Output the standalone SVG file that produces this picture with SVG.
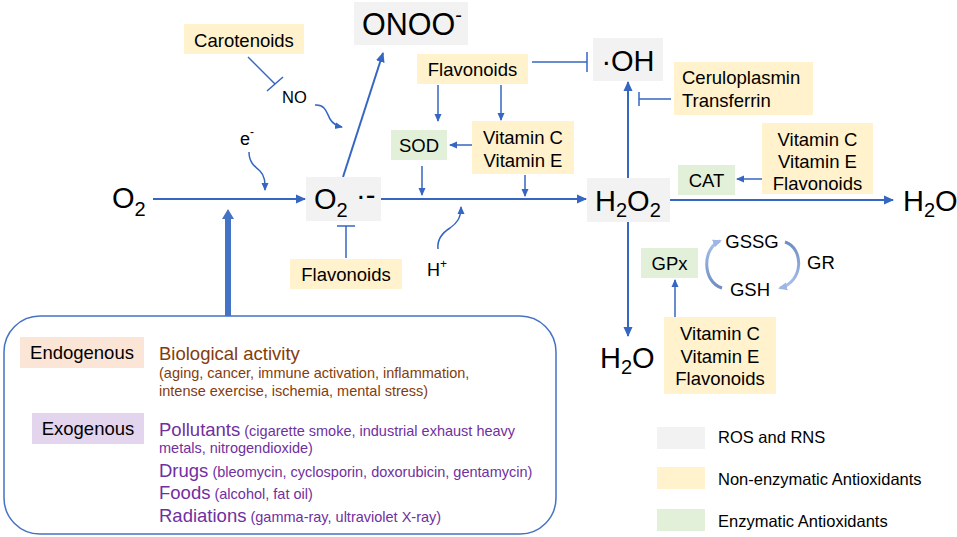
<svg xmlns="http://www.w3.org/2000/svg" width="957" height="537" viewBox="0 0 957 537">
<style>
text{font-family:"Liberation Sans",Arial,sans-serif;fill:#000}
.big{font-size:29px}
.sub{font-size:20px}
.lab{font-size:18.5px}
.sm{font-size:16.5px}
.ros{fill:#f2f2f2}
.non{fill:#fff2cc}
.enz{fill:#e2f0d9}
.ln{stroke:#3466c2;stroke-width:2;fill:none}
.ls{stroke:#3466c2;stroke-width:1.5;fill:none}
.brown{fill:#843c0c}
.purple{fill:#7030a0}
</style>
<defs>
<marker id="ah" markerUnits="userSpaceOnUse" markerWidth="10" markerHeight="10" viewBox="0 0 10 10" refX="9" refY="5" orient="auto"><path d="M0,0.5 L10,5 L0,9.5 z" fill="#3466c2"/></marker>
<marker id="as" markerUnits="userSpaceOnUse" markerWidth="8" markerHeight="8" viewBox="0 0 8 8" refX="7" refY="4" orient="auto"><path d="M0,0.5 L8,4 L0,7.5 z" fill="#3466c2"/></marker>
<marker id="ag" markerUnits="userSpaceOnUse" markerWidth="9" markerHeight="9" viewBox="0 0 9 9" refX="7" refY="4.5" orient="auto"><path d="M0,0.5 L9,4.5 L0,8.5 z" fill="#9db6e3"/></marker>
<linearGradient id="gl" gradientUnits="userSpaceOnUse" x1="0" y1="288" x2="0" y2="240"><stop offset="0" stop-color="#6f8cc4"/><stop offset="1" stop-color="#a9c2ec"/></linearGradient>
<linearGradient id="gr" gradientUnits="userSpaceOnUse" x1="0" y1="242" x2="0" y2="288"><stop offset="0" stop-color="#6f8cc4"/><stop offset="1" stop-color="#a9c2ec"/></linearGradient>
</defs>

<g id="connectors">
<line class="ln" x1="153" y1="199" x2="305" y2="199" marker-end="url(#ah)"/>
<line class="ln" x1="381" y1="199" x2="586" y2="199" marker-end="url(#ah)"/>
<line class="ln" x1="670" y1="200" x2="893" y2="200" marker-end="url(#ah)"/>
<line class="ln" x1="343" y1="177" x2="383" y2="53" marker-end="url(#ah)"/>
<line class="ln" x1="628" y1="178" x2="628" y2="82" marker-end="url(#ah)"/>
<line class="ln" x1="628" y1="222" x2="628" y2="336" marker-end="url(#ah)"/>
<polygon points="225,316 231,316 231,219 234,219 228,209 222,219 225,219" fill="#4472c4"/>
<line class="ls" x1="248" y1="57" x2="275" y2="84"/>
<line class="ls" x1="267" y1="91" x2="283" y2="77"/>
<line class="ls" x1="346" y1="258" x2="346" y2="226"/>
<line class="ls" x1="337" y1="226" x2="355" y2="226"/>
<line class="ls" x1="532" y1="62" x2="587" y2="62"/>
<line class="ls" x1="587" y1="52" x2="587" y2="72"/>
<line class="ls" x1="671" y1="99" x2="639" y2="99"/>
<line class="ls" x1="639" y1="92" x2="639" y2="106"/>
<line class="ls" x1="438" y1="85" x2="438" y2="121" marker-end="url(#as)"/>
<line class="ls" x1="501" y1="85" x2="501" y2="120" marker-end="url(#as)"/>
<line class="ls" x1="472" y1="145" x2="450" y2="145" marker-end="url(#as)"/>
<line class="ls" x1="422" y1="166" x2="422" y2="195" marker-end="url(#as)"/>
<line class="ls" x1="525" y1="175" x2="525" y2="196" marker-end="url(#as)"/>
<line class="ls" x1="762" y1="179" x2="737" y2="179" marker-end="url(#as)"/>
<line class="ls" x1="675" y1="317" x2="675" y2="280" marker-end="url(#as)"/>
<path class="ls" d="M315,105 C326,104 327,114 330,119 C333,124 337,126 342,127" marker-end="url(#as)"/>
<path class="ls" d="M249,152 C249,162 254,166 260,171 C265,176 265,182 265,190" marker-end="url(#as)"/>
<path class="ls" d="M438,249 C437,240 442,233 450,228 C457,223 461,218 461,207" marker-end="url(#as)"/>
<path d="M722,288 C702,282 702,248 720,241" fill="none" stroke="url(#gl)" stroke-width="3" marker-end="url(#ag)"/>
<path d="M785,242 C804,248 804,282 780,288" fill="none" stroke="url(#gr)" stroke-width="3" marker-end="url(#ag)"/>
</g>

<g id="O2"><text class="big" x="112" y="208">O<tspan class="sub" dy="8">2</tspan></text></g>
<g id="superoxide"><rect class="ros" x="306" y="177" width="75" height="44"/><text class="big" x="314" y="209">O<tspan class="sub" dy="8">2</tspan></text><text class="big" x="356" y="205">·-</text></g>
<g id="ONOO"><rect class="ros" x="354" y="2" width="114" height="43"/><text class="big" x="362" y="35" style="font-size:30.5px">ONOO<tspan class="sub" dy="-13">-</tspan></text></g>
<g id="OH"><rect class="ros" x="593" y="38" width="70" height="43"/><text class="big" x="628" y="71" text-anchor="middle">·OH</text></g>
<g id="H2O2"><rect class="ros" x="587" y="178" width="83" height="44"/><text class="big" x="595" y="211">H<tspan class="sub" dy="6">2</tspan><tspan dy="-6">O</tspan><tspan class="sub" dy="6">2</tspan></text></g>
<g id="H2O-right"><text class="big" x="903" y="211">H<tspan class="sub" dy="6">2</tspan><tspan dy="-6">O</tspan></text></g>
<g id="H2O-down"><text class="big" x="600" y="368">H<tspan class="sub" dy="6">2</tspan><tspan dy="-6">O</tspan></text></g>

<g id="carotenoids"><rect class="non" x="184" y="24" width="120" height="30"/><text class="lab" x="244" y="46.5" text-anchor="middle">Carotenoids</text></g>
<g id="NO"><text class="sm" x="282" y="103">NO</text></g>
<g id="electron"><text class="sm" x="240" y="145" style="font-size:18px">e<tspan font-size="12" dy="-9">-</tspan></text></g>
<g id="proton"><text class="sm" x="427" y="276" style="font-size:18px">H<tspan font-size="12" dy="-8">+</tspan></text></g>
<g id="flavonoids-top"><rect class="non" x="417" y="54" width="111" height="30"/><text class="lab" x="472.5" y="75.5" text-anchor="middle">Flavonoids</text></g>
<g id="SOD"><rect class="enz" x="391" y="130" width="56" height="30"/><text class="lab" x="419" y="151.5" text-anchor="middle">SOD</text></g>
<g id="vitCE"><rect class="non" x="472" y="121" width="102" height="53"/><text class="lab" x="523" y="143.5" text-anchor="middle">Vitamin C</text><text class="lab" x="523" y="166.5" text-anchor="middle">Vitamin E</text></g>
<g id="flavonoids-bottom"><rect class="non" x="290" y="259" width="112" height="30"/><text class="lab" x="346" y="280.5" text-anchor="middle">Flavonoids</text></g>
<g id="ceruloplasmin"><rect class="non" x="674" y="62" width="139" height="53"/><text class="lab" x="682" y="84">Ceruloplasmin</text><text class="lab" x="682" y="107">Transferrin</text></g>
<g id="vit-CAT"><rect class="non" x="762" y="123" width="111" height="71"/><text class="lab" x="817.5" y="146" text-anchor="middle">Vitamin C</text><text class="lab" x="817.5" y="168" text-anchor="middle">Vitamin E</text><text class="lab" x="817.5" y="190" text-anchor="middle">Flavonoids</text></g>
<g id="CAT"><rect class="enz" x="678" y="165" width="57" height="30"/><text class="lab" x="706.5" y="187" text-anchor="middle">CAT</text></g>
<g id="GPx"><rect class="enz" x="641" y="248" width="57" height="30"/><text class="lab" x="669.5" y="270" text-anchor="middle">GPx</text></g>
<g id="vit-GPx"><rect class="non" x="664" y="317" width="112" height="77"/><text class="lab" x="720" y="340" text-anchor="middle">Vitamin C</text><text class="lab" x="720" y="363" text-anchor="middle">Vitamin E</text><text class="lab" x="720" y="385" text-anchor="middle">Flavonoids</text></g>
<g id="GSSG"><text class="lab" x="752" y="248" text-anchor="middle">GSSG</text></g>
<g id="GSH"><text class="lab" x="750" y="296" text-anchor="middle">GSH</text></g>
<g id="GR"><text class="lab" x="807" y="269">GR</text></g>

<g id="sources">
<rect x="4" y="316" width="552" height="218" rx="36" fill="none" stroke="#4472c4" stroke-width="1.5"/>
<rect x="20" y="337" width="124" height="31" fill="#fbe5d6"/>
<text class="lab" x="82" y="359" text-anchor="middle">Endogenous</text>
<rect x="32" y="413" width="112" height="31" fill="#e4d5ee"/>
<text class="lab" x="88" y="435" text-anchor="middle">Exogenous</text>
<text class="lab brown" x="159" y="360">Biological activity</text>
<text class="brown" x="159" y="378" font-size="14.5">(aging, cancer, immune activation, inflammation,</text>
<text class="brown" x="159" y="396" font-size="14.5">intense exercise, ischemia, mental stress)</text>
<text class="purple" x="159" y="436"><tspan font-size="18.5">Pollutants</tspan><tspan font-size="14.5"> (cigarette smoke, industrial exhaust heavy</tspan></text>
<text class="purple" x="159" y="453" font-size="14.5">metals, nitrogendioxide)</text>
<text class="purple" x="159" y="477"><tspan font-size="18.5">Drugs</tspan><tspan font-size="14.5"> (bleomycin, cyclosporin, doxorubicin, gentamycin)</tspan></text>
<text class="purple" x="159" y="499"><tspan font-size="18.5">Foods</tspan><tspan font-size="14.5"> (alcohol, fat oil)</tspan></text>
<text class="purple" x="159" y="522"><tspan font-size="18.5">Radiations</tspan><tspan font-size="14.5"> (gamma-ray, ultraviolet X-ray)</tspan></text>
</g>

<g id="legend">
<rect class="ros" x="657" y="427" width="48" height="22"/>
<text class="sm" x="718" y="443">ROS and RNS</text>
<rect class="non" x="657" y="467" width="48" height="22"/>
<text class="sm" x="718" y="485">Non-enzymatic Antioxidants</text>
<rect class="enz" x="657" y="509" width="48" height="22"/>
<text class="sm" x="718" y="527">Enzymatic Antioxidants</text>
</g>
</svg>
